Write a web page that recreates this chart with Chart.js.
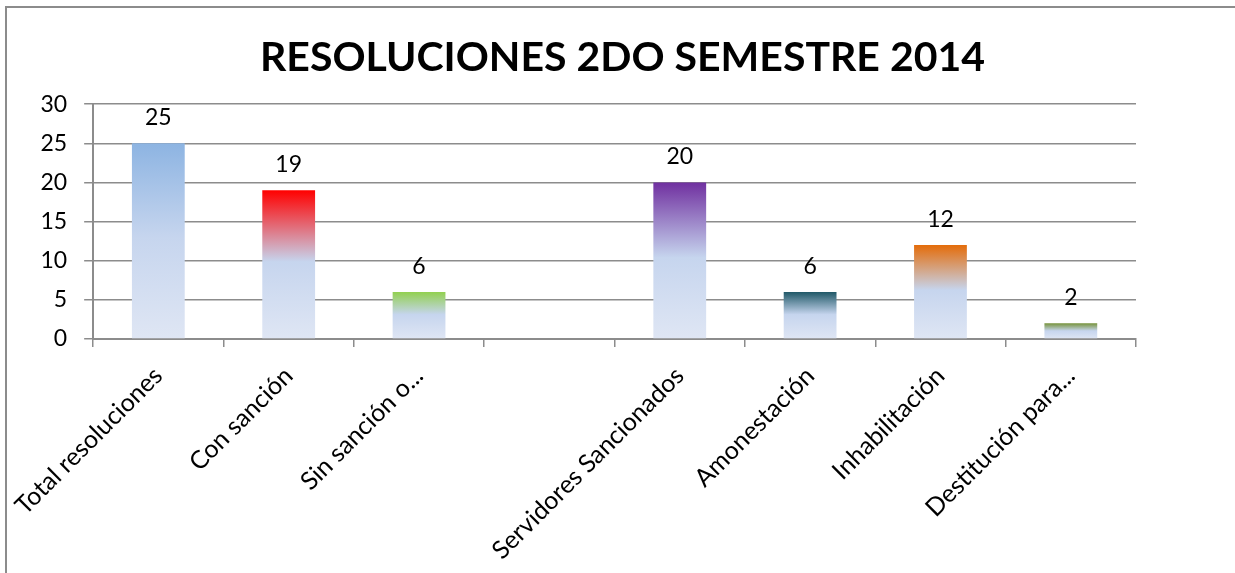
<!DOCTYPE html>
<html>
<head>
<meta charset="utf-8">
<script src="https://cdn.jsdelivr.net/npm/chart.js@4.4.1/dist/chart.umd.min.js"></script>
<style>
  html, body { margin: 0; padding: 0; background: #fff; overflow: hidden; }
  #wrap { position: relative; width: 1235px; height: 573px; }
  #frame { position: absolute; left: 5px; top: 6px; width: 1400px; height: 800px;
           border-left: 2px solid #8c8c8c; border-top: 2px solid #8c8c8c; pointer-events: none; }
  canvas { position: absolute; left: 0; top: 0; }
</style>
</head>
<body>
<div id="wrap">
  <canvas id="c" width="1235" height="573"></canvas>
  <div id="frame"></div>
</div>
<script>
const chartTitle = "RESOLUCIONES 2DO SEMESTRE 2014";
const categories = ["Total resoluciones", "Con sanción", "Sin sanción o...", "", "Servidores Sancionados", "Amonestación", "Inhabilitación", "Destitución para..."];
const values = [25, 19, 6, null, 20, 6, 12, 2];
const topColors = ["#8db4e2", "#ff0000", "#92d050", "#ffffff", "#7030a0", "#215968", "#e46c0a", "#77933c"];
const yTicks = [0, 5, 10, 15, 20, 25, 30];

const FONT = "Lato, 'Open Sans', sans-serif";
const GRID = "#8c8c8c";

function barFill(ctx) {
  const chart = ctx.chart;
  if (!chart.chartArea || ctx.type !== 'data') return topColors[ctx.dataIndex] || '#8db4e2';
  const v = values[ctx.dataIndex];
  if (v == null) return 'rgba(0,0,0,0)';
  const ys = chart.scales.y;
  const yTop = ys.getPixelForValue(v);
  const yBot = ys.getPixelForValue(0);
  if (!isFinite(yTop) || !isFinite(yBot) || yTop === yBot) return topColors[ctx.dataIndex];
  const g = chart.ctx.createLinearGradient(0, yTop, 0, yBot);
  g.addColorStop(0, topColors[ctx.dataIndex]);
  g.addColorStop(0.48, "#c6d5ee");
  g.addColorStop(1, "#dfe6f4");
  return g;
}

const valueLabels = {
  id: 'valueLabels',
  afterDatasetsDraw(chart) {
    const c = chart.ctx;
    const meta = chart.getDatasetMeta(0);
    c.save();
    c.font = "23px " + FONT;
    c.fillStyle = "#000";
    c.textAlign = "center";
    c.textBaseline = "alphabetic";
    meta.data.forEach((el, i) => {
      const v = values[i];
      if (v == null) return;
      c.fillText(String(v), el.x, el.y - 18);
    });
    c.restore();
  }
};

new Chart(document.getElementById('c'), {
  type: 'bar',
  data: {
    labels: categories,
    datasets: [{
      data: values,
      backgroundColor: barFill,
      borderWidth: 0,
      categoryPercentage: 1.0,
      barPercentage: 0.405
    }]
  },
  options: {
    responsive: false,
    animation: false,
    devicePixelRatio: 1,
    layout: { padding: { left: 10, right: 0, top: 0, bottom: 0 } },
    plugins: {
      legend: { display: false },
      tooltip: { enabled: false },
      title: {
        display: true,
        text: chartTitle,
        color: "#000",
        font: { family: FONT, size: 41, weight: 'bold' },
        padding: { top: 33, bottom: 22 }
      }
    },
    scales: {
      x: {
        grid: { display: true, offset: true, drawOnChartArea: false, drawTicks: true, tickLength: 8, color: GRID, lineWidth: 1.5 },
        border: { display: true, color: GRID, width: 2 },
        ticks: { color: "#000", font: { family: FONT, size: 25 }, minRotation: 45, maxRotation: 45, autoSkip: false, padding: 14 },
        afterFit(s) { s.height = 234; }
      },
      y: {
        min: 0, max: 30,
        afterBuildTicks(s) { s.ticks = yTicks.map(v => ({ value: v })); },
        grid: { color: GRID, lineWidth: 1.5, tickLength: 9 },
        border: { display: true, color: GRID, width: 2 },
        ticks: { color: "#000", font: { family: FONT, size: 23 }, padding: 17 },
        afterFit(s) { s.width = 81; }
      },
      y2: {
        position: 'right',
        display: true,
        grid: { display: false, drawTicks: false },
        border: { display: false },
        ticks: { display: false },
        afterFit(s) { s.width = 99; }
      }
    }
  },
  plugins: [valueLabels]
});
</script>
</body>
</html>
